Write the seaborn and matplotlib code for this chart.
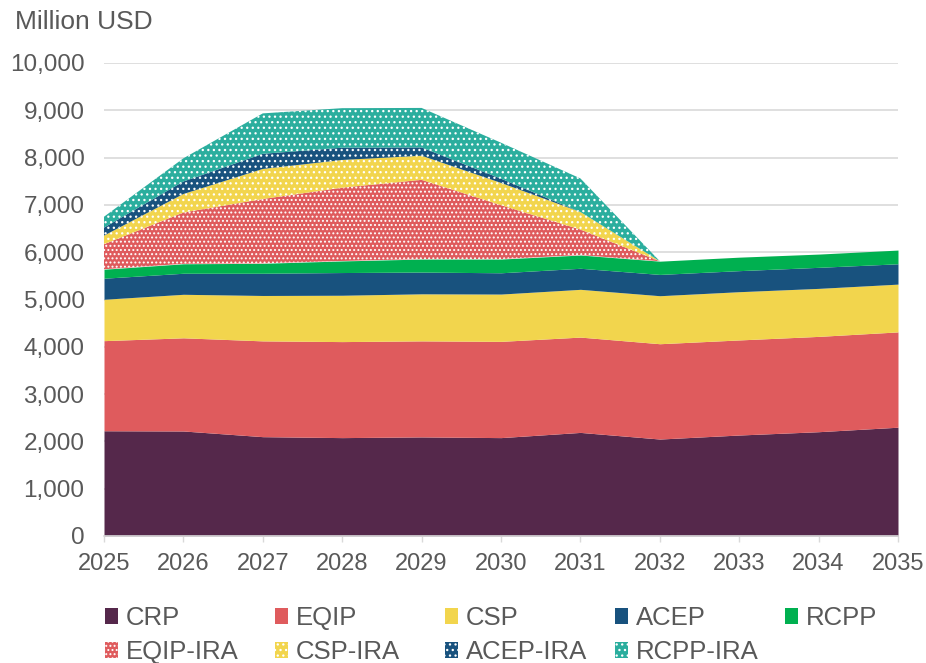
import matplotlib
matplotlib.use("Agg")
import matplotlib.pyplot as plt
from matplotlib.patches import Patch
from matplotlib.ticker import StrMethodFormatter
import seaborn as sns

# --- data (million USD) ---
years = [2025, 2026, 2027, 2028, 2029, 2030, 2031, 2032, 2033, 2034, 2035]

crp = [2225, 2220, 2100, 2080, 2095, 2080, 2190, 2050, 2135, 2205, 2300]
eqip = [1905, 1970, 2025, 2030, 2030, 2035, 2015, 2015, 2010, 2015, 2015]
csp = [875, 920, 960, 980, 995, 1000, 1010, 1015, 1020, 1015, 1010]
acep = [445, 445, 470, 480, 460, 450, 445, 450, 445, 445, 430]
rcpp = [190, 200, 210, 245, 275, 290, 280, 280, 285, 280, 290]

eqip_ira = [530, 1085, 1360, 1550, 1675, 1140, 540, 0, 0, 0, 0]
csp_ira = [180, 390, 635, 585, 510, 470, 370, 0, 0, 0, 0]
acep_ira = [170, 265, 320, 260, 175, 90, 0, 0, 0, 0, 0]
rcpp_ira = [230, 490, 855, 835, 835, 760, 710, 0, 0, 0, 0]

labels = ["CRP", "EQIP", "CSP", "ACEP", "RCPP",
          "EQIP-IRA", "CSP-IRA", "ACEP-IRA", "RCPP-IRA"]
colors = ["#55284b", "#df5b5d", "#f2d54d", "#18527e", "#00b050",
          "#df5b5d", "#f2d54d", "#18527e", "#2bae9e"]
hatches = [None, None, None, None, None, "....", "...", "...", "..."]

# --- style ---
sns.set_theme(style="white")
plt.rcParams["font.family"] = ["Liberation Sans", "DejaVu Sans"]
plt.rcParams["hatch.linewidth"] = 0.9
grey = "#595959"

fig = plt.figure(figsize=(9.26, 6.63), dpi=100)
ax = fig.add_axes([104 / 926, 1 - 536 / 663, 794 / 926, 473 / 663])

series = [crp, eqip, csp, acep, rcpp, eqip_ira, csp_ira, acep_ira, rcpp_ira]
ax.stackplot(years, *series, colors=colors, hatch=hatches,
             edgecolor="white", linewidth=0, zorder=2)

ax.set_xlim(2025, 2035)
ax.set_ylim(0, 10000)
ax.set_xticks(years)
ax.set_yticks(range(0, 10001, 1000))
ax.yaxis.set_major_formatter(StrMethodFormatter("{x:,.0f}"))

ax.grid(axis="y", color="#d9d9d9", linewidth=1.2, zorder=0)
ax.grid(axis="x", visible=False)
ax.set_axisbelow(True)
for side in ["left", "right", "top"]:
    ax.spines[side].set_visible(False)
ax.spines["bottom"].set_color("#d9d9d9")
ax.spines["bottom"].set_linewidth(1.2)
ax.spines["bottom"].set_zorder(3)

ax.tick_params(axis="x", bottom=True, length=4, width=1, color="#d9d9d9",
               labelsize=17, labelcolor=grey, pad=8)
ax.tick_params(axis="y", left=False, labelsize=17.5, labelcolor=grey, pad=8)

fig.text(15 / 926, 1 - 22 / 663, "Million USD", fontsize=19, color=grey,
         va="center", ha="left")

# --- legend: one small legend per column so the columns sit evenly ---
handles = [Patch(facecolor=c, edgecolor="white", hatch=h, linewidth=0)
           for c, h in zip(colors, hatches)]
col_x = [105, 275, 445, 615, 785]
for i, x in enumerate(col_x):
    idx = [4] if i == 4 else [i, i + 5]
    fig.legend([handles[j] for j in idx], [labels[j] for j in idx],
               loc="upper left", bbox_to_anchor=(x / 926, 1 - 606 / 663),
               frameon=False, fontsize=18.5, labelcolor=grey,
               handlelength=0.5, handleheight=0.6, handletextpad=0.3,
               labelspacing=0.4, borderpad=0, borderaxespad=0)

fig.savefig("out.png", dpi=100)
